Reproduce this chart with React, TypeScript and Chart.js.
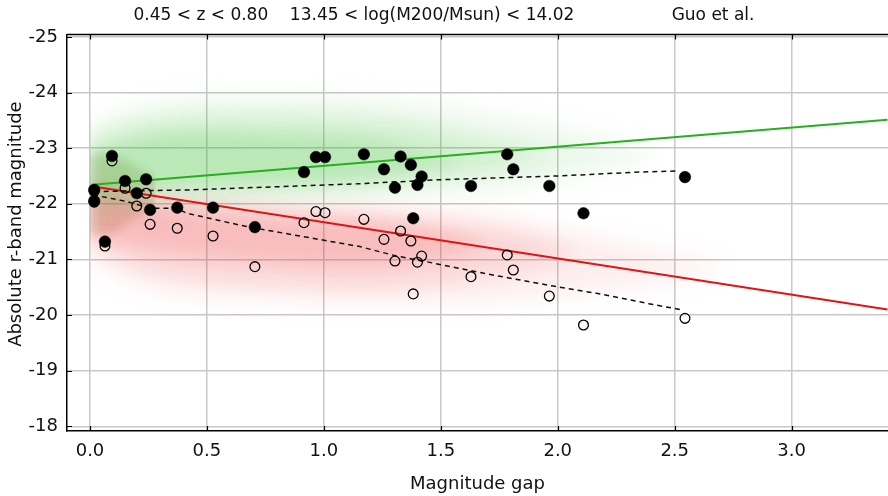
import React, { useEffect, useRef } from "react";
import { Chart, registerables } from "chart.js";

// soft-edge plugin must be registered before the Filler so the blur is active when fills are painted
const softPlugin = {
  id: "softClouds",
  beforeDatasetDraw(chart: any, args: any) {
    const ds = chart.data.datasets[args.index];
    if (ds && ds.soft) {
      chart.ctx.save();
      chart.ctx.filter = "blur(" + ds.soft + "px)";
    }
  },
  afterDatasetDraw(chart: any, args: any) {
    const ds = chart.data.datasets[args.index];
    if (ds && ds.soft) chart.ctx.restore();
  },
};
Chart.register(softPlugin);
Chart.register(...registerables);

const TITLE = "0.45 < z < 0.80    13.45 < log(M200/Msun) < 14.02                  Guo et al.";
const X_LABEL = "Magnitude gap";
const Y_LABEL = "Absolute r-band magnitude";

const X_TICKS = [0, 0.5, 1.0, 1.5, 2.0, 2.5, 3.0];
const X_TICK_LABELS = ["0.0", "0.5", "1.0", "1.5", "2.0", "2.5", "3.0"];
const Y_TICKS = [-25, -24, -23, -22, -21, -20, -19, -18];
const Y_TICK_LABELS = ["-25", "-24", "-23", "-22", "-21", "-20", "-19", "-18"];

// observed groups: magnitude gap, brightest (filled) and second (open) magnitudes
const GAP = [0.018, 0.018, 0.064, 0.094, 0.15, 0.2, 0.24, 0.257, 0.373, 0.526, 0.705, 0.915, 0.966, 1.005,
  1.171, 1.257, 1.304, 1.328, 1.372, 1.382, 1.40, 1.418, 1.629, 1.784, 1.81, 1.964, 2.11, 2.544];
const BCG_MAG = [-22.25, -22.05, -21.32, -22.86, -22.41, -22.19, -22.44, -21.89, -21.93, -21.93, -21.58, -22.57, -22.84, -22.84,
  -22.89, -22.62, -22.29, -22.85, -22.70, -21.74, -22.34, -22.49, -22.32, -22.89, -22.62, -22.32, -21.83, -22.48];
const SECOND_MAG = [-22.23, -22.03, -21.24, -22.77, -22.28, -21.96, -22.19, -21.63, -21.56, -21.42, -20.87, -21.66, -21.86, -21.84,
  -21.72, -21.36, -20.97, -21.51, -21.33, -20.38, -20.95, -21.06, -20.69, -21.08, -20.81, -20.34, -19.82, -19.94];

// model fits
const GREEN_FIT_X = [0.01, 3.41];
const GREEN_FIT_Y = [-22.34, -23.51];
const RED_FIT_X = [0.0, 3.41];
const RED_FIT_Y = [-22.32, -20.10];

// running medians of the observations
const UPPER_MED_X = [0.02, 0.43, 1.15, 1.48, 2.0, 2.35, 2.52];
const UPPER_MED_Y = [-22.22, -22.25, -22.36, -22.43, -22.50, -22.57, -22.59];
const LOWER_MED_X = [0.013, 0.157, 0.257, 0.371, 0.413, 0.67, 0.898, 1.154, 1.311, 1.425, 1.696, 1.981, 2.166, 2.394, 2.522];
const LOWER_MED_Y = [-22.16, -22.04, -21.92, -21.92, -21.83, -21.59, -21.42, -21.23, -21.06, -20.97, -20.74, -20.52, -20.39, -20.20, -20.10];

// model cloud envelopes (brightest galaxy: green, second: red)
const GREEN_OUT_X = [0, 0.3, 0.8, 1.3, 1.8, 2.3, 2.45];
const GREEN_OUT_UP = [-23.4, -23.8, -23.9, -23.8, -23.5, -23.05, -22.9];
const GREEN_OUT_LO = [-21.9, -22.0, -22.1, -22.2, -22.3, -22.75, -22.9];
const GREEN_MID_X = [0, 0.3, 0.8, 1.3, 1.7, 2.0];
const GREEN_MID_UP = [-23.2, -23.5, -23.55, -23.45, -23.1, -22.85];
const GREEN_MID_LO = [-22.05, -22.15, -22.2, -22.3, -22.6, -22.85];
const GREEN_IN_X = [0, 0.3, 0.8, 1.2, 1.45, 1.6];
const GREEN_IN_UP = [-22.95, -23.25, -23.25, -23.15, -22.9, -22.75];
const GREEN_IN_LO = [-22.2, -22.3, -22.35, -22.45, -22.65, -22.75];

const RED_OUT_X = [0, 0.3, 0.8, 1.3, 1.8, 2.5, 2.75];
const RED_OUT_UP = [-22.5, -22.2, -22.0, -21.9, -21.7, -21.05, -20.85];
const RED_OUT_LO = [-21.0, -20.45, -20.3, -20.25, -20.3, -20.65, -20.85];
const RED_MID_X = [0, 0.3, 0.8, 1.3, 1.8, 2.1];
const RED_MID_UP = [-22.35, -22.1, -21.9, -21.8, -21.5, -21.1];
const RED_MID_LO = [-21.2, -20.75, -20.55, -20.5, -20.8, -21.1];
const RED_IN_X = [0, 0.3, 0.8, 1.2, 1.5, 1.7];
const RED_IN_UP = [-22.25, -22.0, -21.8, -21.7, -21.5, -21.25];
const RED_IN_LO = [-21.4, -21.15, -20.95, -20.9, -21.05, -21.25];

const OLIVE_X = [0, 0.08, 0.16, 0.28];
const OLIVE_UP = [-22.9, -22.9, -22.75, -22.45];
const OLIVE_LO = [-21.45, -21.45, -21.65, -21.95];

const pts = (xs: number[], ys: number[]) => xs.map((x, i) => ({ x, y: ys[i] }));

function band(xs: number[], up: number[], lo: number[], color: string, soft: number) {
  const base = { type: "line" as const, borderWidth: 0, borderColor: "rgba(0,0,0,0)", pointRadius: 0, tension: 0.35, order: 10 };
  return [
    { ...base, data: pts(xs, up), fill: "+1", backgroundColor: color, soft },
    { ...base, data: pts(xs, lo), fill: false },
  ];
}

const framePlugin = {
  id: "frame",
  afterDatasetsDraw(chart: any) {
    const { ctx, chartArea: a, scales } = chart;
    ctx.save();
    ctx.strokeStyle = "#000";
    ctx.lineWidth = 1.5;
    ctx.beginPath();
    ctx.moveTo(a.left, a.top);
    ctx.lineTo(a.right, a.top);
    ctx.stroke();
    ctx.lineWidth = 1.2;
    ctx.beginPath();
    scales.x.ticks.forEach((t: any) => {
      const px = Math.round(scales.x.getPixelForValue(t.value)) + 0.5;
      ctx.moveTo(px, a.top);
      ctx.lineTo(px, a.top + 5);
      ctx.moveTo(px, a.bottom);
      ctx.lineTo(px, a.bottom - 5);
    });
    scales.y.ticks.forEach((t: any) => {
      const py = Math.round(scales.y.getPixelForValue(t.value)) + 0.5;
      ctx.moveTo(a.left, py);
      ctx.lineTo(a.left + 5, py);
    });
    ctx.stroke();
    ctx.restore();
  },
};

export default function App() {
  const ref = useRef<HTMLCanvasElement>(null);
  useEffect(() => {
    if (!ref.current) return;
    Chart.defaults.font.family = "'DejaVu Sans', sans-serif";
    Chart.defaults.color = "#000";
    const datasets: any[] = [
      {
        type: "scatter", data: pts(GAP, BCG_MAG), pointRadius: 5.8, pointBackgroundColor: "#000",
        pointBorderColor: "#000", pointBorderWidth: 0.5, order: 0,
      },
      {
        type: "scatter", data: pts(GAP, SECOND_MAG), pointRadius: 4.9, pointBackgroundColor: "rgba(255,255,255,0)",
        pointBorderColor: "#000", pointBorderWidth: 1.3, order: 1,
      },
      { type: "line", data: pts(GREEN_FIT_X, GREEN_FIT_Y), borderColor: "rgb(40,175,30)", borderWidth: 2, pointRadius: 0, fill: false, order: 3 },
      { type: "line", data: pts(RED_FIT_X, RED_FIT_Y), borderColor: "rgb(225,20,20)", borderWidth: 2, pointRadius: 0, fill: false, order: 3 },
      { type: "line", data: pts(UPPER_MED_X, UPPER_MED_Y), borderColor: "#111", borderWidth: 1.5, borderDash: [5, 4], pointRadius: 0, fill: false, order: 2 },
      { type: "line", data: pts(LOWER_MED_X, LOWER_MED_Y), borderColor: "#111", borderWidth: 1.5, borderDash: [5, 4], pointRadius: 0, fill: false, order: 2 },
      ...band(GREEN_OUT_X, GREEN_OUT_UP, GREEN_OUT_LO, "rgba(60,190,50,0.10)", 12),
      ...band(GREEN_MID_X, GREEN_MID_UP, GREEN_MID_LO, "rgba(60,190,50,0.14)", 10),
      ...band(GREEN_IN_X, GREEN_IN_UP, GREEN_IN_LO, "rgba(60,190,50,0.16)", 8),
      ...band(RED_OUT_X, RED_OUT_UP, RED_OUT_LO, "rgba(235,50,50,0.09)", 12),
      ...band(RED_MID_X, RED_MID_UP, RED_MID_LO, "rgba(235,50,50,0.12)", 10),
      ...band(RED_IN_X, RED_IN_UP, RED_IN_LO, "rgba(235,50,50,0.15)", 8),
      ...band(OLIVE_X, OLIVE_UP, OLIVE_LO, "rgba(120,105,30,0.22)", 5),
    ];
    const chart = new Chart(ref.current, {
      type: "scatter",
      data: { datasets },
      plugins: [framePlugin],
      options: {
        animation: false,
        responsive: false,
        devicePixelRatio: 1,
        layout: { padding: 0, autoPadding: false },
        plugins: {
          legend: { display: false },
          tooltip: { enabled: false },
          title: { display: true, text: TITLE, font: { size: 17, weight: "normal" }, padding: { top: 5, bottom: 9 }, color: "#111" },
        },
        scales: {
          x: {
            type: "linear",
            min: -0.0983,
            max: 3.412,
            afterFit: (s: any) => { s.height = 65; },
            afterBuildTicks: (s: any) => { s.ticks = X_TICKS.map((v) => ({ value: v })); },
            ticks: {
              padding: 10,
              font: { size: 18 },
              color: "#111",
              callback: (v: any) => X_TICK_LABELS[X_TICKS.indexOf(Number(v))] ?? "",
            },
            grid: { color: "rgb(200,200,200)", lineWidth: 1.5, drawTicks: false },
            border: { display: true, color: "#000", width: 1.5 },
            title: { display: true, text: X_LABEL, font: { size: 18 }, padding: { top: 0, bottom: 1 }, color: "#111" },
          },
          y: {
            type: "linear",
            reverse: true,
            min: -25.045,
            max: -17.915,
            afterFit: (s: any) => { s.width = 67; },
            afterBuildTicks: (s: any) => { s.ticks = Y_TICKS.map((v) => ({ value: v })); },
            ticks: {
              padding: 9,
              labelOffset: 0,
              font: { size: 18 },
              color: "#111",
              callback: (v: any) => Y_TICK_LABELS[Y_TICKS.indexOf(Number(v))] ?? "",
            },
            grid: { color: "rgb(200,200,200)", lineWidth: 1.5, drawTicks: false },
            border: { display: true, color: "#000", width: 1.5 },
            title: { display: true, text: "   " + Y_LABEL, font: { size: 18 }, padding: { top: 6, bottom: 0 }, color: "#111" },
          },
        },
      },
    });
    return () => chart.destroy();
  }, []);
  return (
    <div style={{ position: "absolute", left: 0, top: 0, width: 888, height: 496, background: "#fff" }}>
      <canvas ref={ref} width={888} height={496} style={{ display: "block" }} />
    </div>
  );
}
